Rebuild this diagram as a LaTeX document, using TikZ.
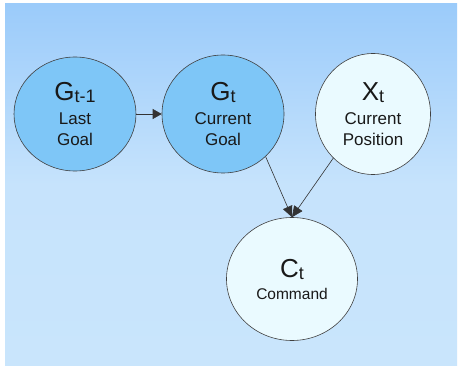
\documentclass[tikz,border=0pt]{standalone}
\usepackage{fontspec}
\setmainfont{Liberation Sans}
\usetikzlibrary{shapes.geometric, positioning, arrows.meta}
\definecolor{panelTop}{RGB}{155,203,250}
\definecolor{panelMid}{RGB}{198,227,252}
\definecolor{panelBottom}{RGB}{201,229,252}
\definecolor{goalFill}{RGB}{126,198,247}
\definecolor{obsFill}{RGB}{234,250,255}
\newcommand{\bigvar}[2]{{\fontsize{26}{26}\selectfont #1}{\fontsize{18}{18}\selectfont\raisebox{-2pt}{#2}}}
\newcommand{\lblfont}{\fontsize{17}{21}\selectfont}
\tikzset{
    on grid,
    node distance=148pt,
    var/.style={ellipse, draw=black!75, line width=0.6pt, align=center,
        inner sep=0pt, text=black!90, font=\lblfont},
    hidden/.style={var, fill=goalFill},
    seen/.style={var, fill=obsFill},
    >={Triangle[length=11pt, width=10pt]},
    every edge/.append style={draw=black!80, line width=0.6pt},
}

\begin{document}
\begin{tikzpicture}
    \useasboundingbox (0,0) rectangle (458pt,367pt);
    \fill[white] (0,0) rectangle (458pt,367pt);
    \shade[top color=panelTop, bottom color=panelBottom, middle color=panelMid]
        (5pt,2pt) rectangle (457pt,363pt);

        \node[hidden, minimum width=122pt, minimum height=114pt] (gprev) at (75pt,253pt)
            {\bigvar{G}{t-1}\\[3pt] Last\\ Goal};
        \node[hidden, minimum width=122pt, minimum height=118pt, right=148pt of gprev] (gcur)
            {\bigvar{G}{t}\\[3pt] Current\\ Goal};
        \node[seen, minimum width=115pt, minimum height=121pt, right=150pt of gcur] (xcur)
            {\bigvar{X}{t}\\[3pt] Current\\ Position};
        \node[seen, minimum width=131pt, minimum height=123pt, below right=165pt and 69pt of gcur] (cmd)
            {\bigvar{C}{t}\\[1pt] {\fontsize{15.5}{19}\selectfont Command}};

    \path[->]
        (gprev) edge[-{Triangle[length=9pt, width=10pt]}] (gcur)
        (gcur.-45) edge (cmd.north)
        (xcur.-132) edge (cmd.north);
\end{tikzpicture}
\end{document}
